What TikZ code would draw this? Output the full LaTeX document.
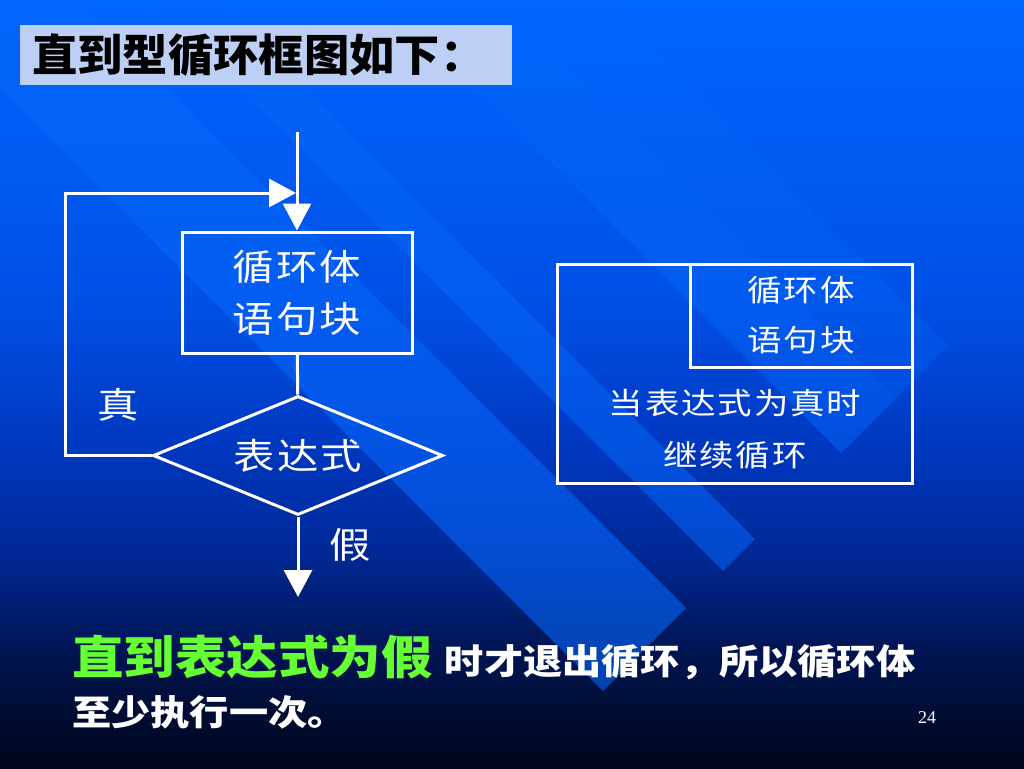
\documentclass[tikz,border=0pt]{standalone}
\usepackage{fontspec}
\setmainfont{Liberation Serif}
\newfontfamily\cjkthin[FakeStretch=1.15,LetterSpace=6]{Noto Sans CJK SC}
\newfontfamily\cjkbold[FakeStretch=1.12]{Noto Sans CJK SC}
\newfontfamily\cjktitle[FakeStretch=1.03]{Noto Sans CJK SC}
\usepackage{tikz}
\usetikzlibrary{calc,arrows.meta,shapes.geometric,positioning}
\definecolor{bgA}{RGB}{0,5,25}
\definecolor{bgB}{RGB}{0,20,80}
\definecolor{bgC}{RGB}{0,40,150}
\definecolor{bgD}{RGB}{0,55,190}
\definecolor{bgE}{RGB}{0,80,230}
\definecolor{bgF}{RGB}{0,102,255}
\definecolor{stripe}{RGB}{5,102,250}
\definecolor{titlefill}{RGB}{189,207,245}
\definecolor{hintgreen}{RGB}{102,255,51}
% stops between 25bp and 75bp: that part is fitted to the path
\pgfdeclareverticalshading{slidebg}{100bp}{color(0bp)=(bgA); color(25bp)=(bgA); color(32.5bp)=(bgB); color(39bp)=(bgC); color(45.5bp)=(bgD); color(55.5bp)=(bgE); color(75bp)=(bgF); color(100bp)=(bgF)}
\tikzset{
    block/.style={
    rectangle,draw=white,line width=3pt,minimum width=230pt,minimum height=121pt,
    text=white,align=center,font=\cjkthin\fontsize{36}{52}\selectfont
    },
    decision/.style={
    diamond,draw=white,line width=3pt,aspect=2.4,inner sep=0pt,
    minimum width=290pt,minimum height=119pt,
    text=white,font=\cjkthin\fontsize{36}{44}\selectfont
    },
    nsbox/.style={
    rectangle,draw=white,line width=3pt,text=white,align=center,
    font=\cjkthin\fontsize{30}{50}\selectfont
    },
    label/.style={
    text=white,font=\cjkthin\fontsize{36}{44}\selectfont
    },
    titlebox/.style={
    anchor=west,fill=titlefill,text=black,text width=468pt,inner xsep=12pt,
    inner ysep=2pt,minimum height=60pt,
    font=\cjktitle\bfseries\fontsize{44}{50}\selectfont
    },
    summary/.style={
    anchor=base west,inner sep=0pt,text=white,
    font=\cjkbold\bfseries\fontsize{35}{40}\selectfont
    },
    flow/.style={
    draw=white,line width=3pt,-{Triangle[width=28pt,length=27pt]}
    },
    band/.style={
    fill=stripe
    },
}
\begin{document}
\begin{tikzpicture}[x=1pt, y=-1pt]
   % background and stripes
   \shade[shading=slidebg] (0,0) rectangle (1024,768);
   \useasboundingbox (0,0) rectangle (1024,768);
   \fill[band,opacity=0.6] (-88,0) -- (78,0) -- (686,608) -- (603,691) -- cycle;
   \fill[band,opacity=0.55] (152,0) -- (216,0) -- (755,539) -- (723,571) -- cycle;
   \fill[band,opacity=0.5] (388,0) -- (498,0) -- (896,398) -- (841,453) -- cycle;
   \fill[band,opacity=0.35] (498,0) -- (603,0) -- (948.5,345.5) -- (896,398) -- cycle;

   \node[titlebox] (title) at (20,55) {直到型循环框图如下：};

   % flow chart
   \coordinate (start) at (297,132);
   \node[block] (body) at (297,292.5) {循环体\\语句块};
   \node[decision] (test) at (298,455.5) {表达式};
   \coordinate (stop) at (298,597);
   \coordinate (back) at (296,193);
   \node[label] (yes) at (118,405) {真};
   \node[label] (no) at (350,545) {假};

   \draw[flow] (start) -- (body);
   \draw[draw=white,line width=3pt] (body) -- (test);
   \draw[flow] (test) -- (stop);
   \draw[flow] (test.west) -- ++(-86,0) |- (back);

   % N-S box
   \node[nsbox,minimum width=355pt,minimum height=219pt] (loopbox) at (734.5,373.5) {};
   \node[nsbox,minimum width=222pt,minimum height=103pt] (bodybox) at (801,315.5) {循环体\\语句块};
   \node[nsbox,draw=none,font=\cjkthin\fontsize{30}{52}\selectfont] (cond) at (735,429) {当表达式为真时\\继续循环};

   \node[summary] (sum1) at (72,674) {\textcolor{hintgreen}{\fontsize{46}{50}\selectfont 直到表达式为假}\hspace{12pt}时才退出循环，所以循环体};
   \node[summary] (sum2) at (72,725) {至少执行一次。};
   \node[text=white,font=\fontsize{18}{20}\selectfont] (page) at (927,718) {24};
\end{tikzpicture}
\end{document}
